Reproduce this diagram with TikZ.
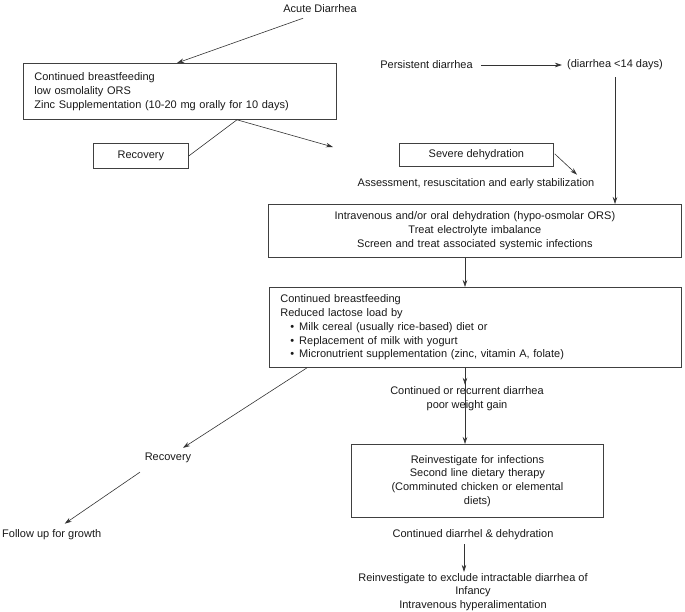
\documentclass[tikz,border=0pt]{standalone}
\usepackage{fontspec}
\setmainfont{Liberation Sans}
\usetikzlibrary{arrows.meta,calc}
\begin{document}
\begin{tikzpicture}[x=1pt,y=-1pt,
  every node/.style={font=\fontsize{11}{13.8}\selectfont, inner sep=0pt, text=black!90},
  box/.style={draw=black!75, line width=0.8pt, anchor=north west},
  arr/.style={-{Stealth[length=7pt,width=4.5pt]}, line width=0.6pt, draw=black!80},
  ln/.style={line width=0.6pt, draw=black!80}]
\useasboundingbox (0,0) rectangle (685,611);

% boxes
\node[box, minimum width=313pt, minimum height=56pt, text width=291pt, inner xsep=11pt, align=left] (b1) at (23,63)
  {Continued breastfeeding\\low osmolality ORS\\Zinc Supplementation (10-20 mg orally for 10 days)};
\node[box, minimum width=95pt, minimum height=25pt] (rec) at (93,143) {Recovery};
\node[box, minimum width=154pt, minimum height=23pt] (sev) at (399,143) {Severe dehydration};
\node[box, minimum width=413pt, minimum height=53pt, text width=413pt, align=center] (b3) at (268,204)
  {Intravenous and/or oral dehydration (hypo-osmolar ORS)\\Treat electrolyte imbalance\\Screen and treat associated systemic infections};
\node[box, minimum width=412pt, minimum height=80pt, text width=390pt, inner xsep=11pt, align=left] (b4) at (269,287)
  {Continued breastfeeding\\Reduced lactose load by\\
   \hspace*{10pt}\textbullet\hspace{5pt}Milk cereal (usually rice-based) diet or\\
   \hspace*{10pt}\textbullet\hspace{5pt}Replacement of milk with yogurt\\
   \hspace*{10pt}\textbullet\hspace{5pt}Micronutrient supplementation (zinc, vitamin A, folate)};
\node[box, minimum width=252pt, minimum height=73pt, text width=252pt, align=center] (b5) at (351,444)
  {Reinvestigate for infections\\Second line dietary therapy\\(Comminuted chicken or elemental\\diets)};

% plain texts
\node (acute) at (320,9) {Acute Diarrhea};
\node (pers) at (426.5,65) {Persistent diarrhea};
\node (d14) at (615,65) {(diarrhea <14 days)};
\node (assess) at (476,184) {Assessment, resuscitation and early stabilization};
\node[align=center] (cont) at (467,399) {Continued or recurrent diarrhea\\poor weight gain};
\node (rec2) at (168,458) {Recovery};
\node[anchor=west] (follow) at (2,535) {Follow up for growth};
\node (cd) at (473,535) {Continued diarrhel \& dehydration};
\node[align=center] (rein) at (473,592) {Reinvestigate to exclude intractable diarrhea of\\Infancy\\Intravenous hyperalimentation};

\coordinate (free1) at (333,147);

% connectors
\draw[arr] ($(acute.south)+(-17,5)$) -- ($(b1.north west)+(154,0)$);
\draw[ln] (rec.east) -- ($(b1.south west)+(214,0)$) coordinate (b1s);
\draw[arr] (b1s) -- (free1);
\draw[arr] ($(pers.east)+(8,0)$) -- ($(d14.west)+(-5,0)$);
\draw[arr] ($(d14.south)+(0,7)$) -- (d14.south |- b3.north);
\draw[arr] ($(sev.east)+(1,-1)$) -- ($(assess.north)+(101,-4)$);
\draw[arr] ($(b3.south west)+(197,0)$) coordinate (p3) -- (p3 |- b4.north);
\draw[arr] ($(b4.south west)+(196,0)$) coordinate (p4) -- ($(p4 |- cont.north)+(0,-2)$);
\draw[arr] ($(b4.south west)+(196,0)$ |- cont.south) ++(0,8) coordinate (p5) -- (p5 |- b5.north);
\draw[arr] ($(cd.south)+(-9,4)$) coordinate (p6) -- ($(p6 |- rein.north)+(0,-1)$);
\draw[arr] ($(b4.south west)+(38,0)$) -- ($(rec2.north)+(15,-5)$);
\draw[arr] ($(rec2.south)+(-28,9)$) -- ($(follow.north)+(13,-6)$);
\end{tikzpicture}
\end{document}
